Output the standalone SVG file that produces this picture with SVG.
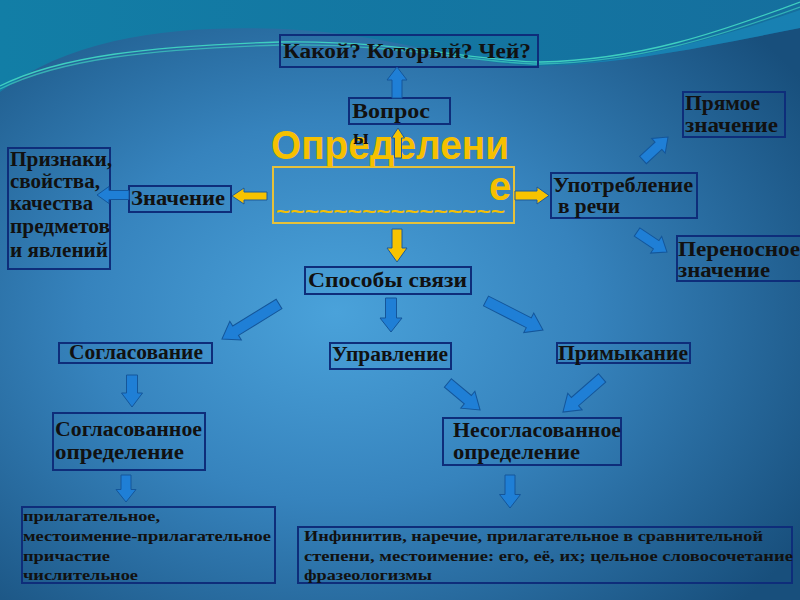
<svg xmlns="http://www.w3.org/2000/svg" width="800" height="600" viewBox="0 0 800 600">
<defs>
<radialGradient id="bg" cx="0.42" cy="0.52" r="0.7">
<stop offset="0" stop-color="#4aa2da"/>
<stop offset="0.45" stop-color="#3683bd"/>
<stop offset="1" stop-color="#184f7c"/>
</radialGradient>
<linearGradient id="cap" x1="0" y1="0" x2="1" y2="0">
<stop offset="0" stop-color="#127ea6"/>
<stop offset="1" stop-color="#156f9e"/>
</linearGradient>
<style>
.box{fill:none;stroke:#0e2d7a;stroke-width:2}
.t{font-family:"Liberation Serif","Times New Roman",serif;font-weight:bold;font-size:20px;fill:#111}
.s{font-family:"Liberation Serif","Times New Roman",serif;font-weight:bold;font-size:15.5px;fill:#111}
.ba{fill:#1f7fd6;stroke:#14569a;stroke-width:1}
.ya{fill:#f8c300;stroke:#1d5a9a;stroke-width:1}
.big{font-family:"Liberation Sans",Arial,sans-serif;font-weight:bold;fill:#f6c000}
</style>
</defs>
<rect width="800" height="600" fill="url(#bg)"/>
<path d="M0,0 H800 V28 C700,48 620,64 540,66 C470,66 400,36 300,30 C200,24 80,30 0,92 Z" fill="url(#cap)"/>
<path d="M540,66 C620,64 700,44 800,10 V28 C700,48 620,64 540,66 Z" fill="#1a8cc0" opacity="0.6"/>
<g fill="none" stroke="#3fcfc0" stroke-width="1.3">
<path d="M0,86 C60,56 150,46 280,42 C400,40 480,62 540,62 C640,60 720,32 800,2"/>
<path d="M0,89 C60,59 150,49 280,45 C400,43 480,64 540,64 C640,62 720,36 800,7" opacity="0.7"/>
</g>

<g id="node-opredelenie">
<rect x="273" y="167" width="241" height="56" fill="none" stroke="#e6c13a" stroke-width="2"/>
<text class="big" x="271" y="159" font-size="40" textLength="238" lengthAdjust="spacingAndGlyphs">Определени</text>
<text class="big" x="489" y="200" font-size="40">е</text>
<text class="big" x="276" y="218" font-size="19" textLength="229" lengthAdjust="spacingAndGlyphs">~~~~~~~~~~~~~~~~</text>
</g>
<g id="node-kakoy">
<rect class="box" x="280" y="35" width="258" height="32"/>
<text class="t" x="283" y="58" textLength="248" lengthAdjust="spacingAndGlyphs">Какой? Который? Чей?</text>
</g>
<g id="node-vopros">
<rect class="box" x="349" y="98" width="101" height="26"/>
<text class="t" x="352" y="118" textLength="78" lengthAdjust="spacingAndGlyphs">Вопрос</text>
<text class="t" x="353" y="144">ы</text>
</g>
<g id="node-znachenie">
<rect class="box" x="129" y="186" width="102" height="26"/>
<text class="t" x="131" y="205" textLength="94" lengthAdjust="spacingAndGlyphs">Значение</text>
</g>
<g id="node-priznaki">
<rect class="box" x="8" y="148" width="102" height="121"/>
<text class="t" x="10" y="166" textLength="102" lengthAdjust="spacingAndGlyphs">Признаки,</text>
<text class="t" x="10" y="188" textLength="90" lengthAdjust="spacingAndGlyphs">свойства,</text>
<text class="t" x="10" y="210" textLength="83" lengthAdjust="spacingAndGlyphs">качества</text>
<text class="t" x="10" y="233" textLength="100" lengthAdjust="spacingAndGlyphs">предметов</text>
<text class="t" x="10" y="257" textLength="98" lengthAdjust="spacingAndGlyphs">и явлений</text>
</g>
<g id="node-upotreblenie">
<rect class="box" x="551" y="173" width="146" height="45"/>
<text class="t" x="553" y="192" textLength="140" lengthAdjust="spacingAndGlyphs">Употребление</text>
<text class="t" x="558" y="213" textLength="62" lengthAdjust="spacingAndGlyphs">в речи</text>
</g>
<g id="node-pryamoe">
<rect class="box" x="683" y="92" width="102" height="45"/>
<text class="t" x="685" y="110" textLength="75" lengthAdjust="spacingAndGlyphs">Прямое</text>
<text class="t" x="685" y="132" textLength="93" lengthAdjust="spacingAndGlyphs">значение</text>
</g>
<g id="node-perenosnoe">
<rect class="box" x="677" y="236" width="126" height="45"/>
<text class="t" x="678" y="256" textLength="122" lengthAdjust="spacingAndGlyphs">Переносное</text>
<text class="t" x="678" y="277" textLength="92" lengthAdjust="spacingAndGlyphs">значение</text>
</g>
<g id="node-sposoby">
<rect class="box" x="305" y="267" width="166" height="27"/>
<text class="t" x="308" y="287" textLength="159" lengthAdjust="spacingAndGlyphs">Способы связи</text>
</g>
<g id="node-soglasovanie">
<rect class="box" x="59" y="343" width="153" height="20"/>
<text class="t" x="69" y="359" textLength="134" lengthAdjust="spacingAndGlyphs">Согласование</text>
</g>
<g id="node-upravlenie">
<rect class="box" x="330" y="343" width="121" height="26"/>
<text class="t" x="332" y="361" textLength="116" lengthAdjust="spacingAndGlyphs">Управление</text>
</g>
<g id="node-primykanie">
<rect class="box" x="557" y="343" width="133" height="20"/>
<text class="t" x="558" y="360" textLength="130" lengthAdjust="spacingAndGlyphs">Примыкание</text>
</g>
<g id="node-soglasovannoe">
<rect class="box" x="53" y="413" width="152" height="57"/>
<text class="t" x="55" y="436" textLength="147" lengthAdjust="spacingAndGlyphs">Согласованное</text>
<text class="t" x="55" y="459" textLength="129" lengthAdjust="spacingAndGlyphs">определение</text>
</g>
<g id="node-nesoglasovannoe">
<rect class="box" x="443" y="418" width="178" height="47"/>
<text class="t" x="453" y="437" textLength="168" lengthAdjust="spacingAndGlyphs">Несогласованное</text>
<text class="t" x="453" y="459" textLength="127" lengthAdjust="spacingAndGlyphs">определение</text>
</g>
<g id="node-list-left">
<rect class="box" x="22" y="507" width="253" height="76"/>
<text class="s" x="23" y="521" textLength="137" lengthAdjust="spacingAndGlyphs">прилагательное,</text>
<text class="s" x="23" y="541" textLength="248" lengthAdjust="spacingAndGlyphs">местоимение-прилагательное</text>
<text class="s" x="23" y="561" textLength="87" lengthAdjust="spacingAndGlyphs">причастие</text>
<text class="s" x="23" y="580" textLength="115" lengthAdjust="spacingAndGlyphs">числительное</text>
</g>
<g id="node-list-right">
<rect class="box" x="298" y="527" width="494" height="56"/>
<text class="s" x="304" y="541" textLength="459" lengthAdjust="spacingAndGlyphs">Инфинитив, наречие, прилагательное в сравнительной</text>
<text class="s" x="304" y="561" textLength="489" lengthAdjust="spacingAndGlyphs">степени, местоимение: его, её, их; цельное словосочетание</text>
<text class="s" x="304" y="580" textLength="128" lengthAdjust="spacingAndGlyphs">фразеологизмы</text>
</g>

<g id="connectors">
<path class="ba" transform="translate(397,82.5) rotate(-90)" d="M-15.5,-5 H2.5 V-10 L15.5,0 L2.5,10 V5 H-15.5 Z"/>
<path class="ya" transform="translate(398,143) rotate(-90)" d="M-15,-3.5 H5 V-6.5 L15,0 L5,6.5 V3.5 H-15 Z"/>
<path class="ya" transform="translate(249.5,196) rotate(180)" d="M-17.5,-4 H5.5 V-8 L17.5,0 L5.5,8 V4 H-17.5 Z"/>
<path class="ba" transform="translate(113,195) rotate(180)" d="M-16,-4.5 H4 V-8.5 L16,0 L4,8.5 V4.5 H-16 Z"/>
<path class="ya" transform="translate(532,195.5) rotate(0)" d="M-17,-4.5 H5 V-8.5 L17,0 L5,8.5 V4.5 H-17 Z"/>
<path class="ba" transform="translate(655.5,148.5) rotate(-42.6)" d="M-17,-5 H4 V-10 L17,0 L4,10 V5 H-17 Z"/>
<path class="ba" transform="translate(652,242) rotate(33.7)" d="M-18,-5 H5 V-10 L18,0 L5,10 V5 H-18 Z"/>
<path class="ya" transform="translate(397,245.5) rotate(90)" d="M-16.5,-5 H2.5 V-10 L16.5,0 L2.5,10 V5 H-16.5 Z"/>
<path class="ba" transform="translate(250.5,321.5) rotate(148.4)" d="M-33.5,-5.5 H17.5 V-11 L33.5,0 L17.5,11 V5.5 H-33.5 Z"/>
<path class="ba" transform="translate(391,315) rotate(90)" d="M-17,-5.5 H3 V-11 L17,0 L3,11 V5.5 H-17 Z"/>
<path class="ba" transform="translate(514.5,315.5) rotate(27)" d="M-32,-5.5 H16 V-11 L32,0 L16,11 V5.5 H-32 Z"/>
<path class="ba" transform="translate(132,391) rotate(90)" d="M-16,-5.5 H2 V-10.5 L16,0 L2,10.5 V5.5 H-16 Z"/>
<path class="ba" transform="translate(464,396.5) rotate(40)" d="M-21,-5.5 H5 V-11 L21,0 L5,11 V5.5 H-21 Z"/>
<path class="ba" transform="translate(582.5,395) rotate(138.9)" d="M-26,-5.5 H10 V-11 L26,0 L10,11 V5.5 H-26 Z"/>
<path class="ba" transform="translate(126,488.5) rotate(90)" d="M-13.5,-5 H1 V-10 L13.5,0 L1,10 V5 H-13.5 Z"/>
<path class="ba" transform="translate(510,491.5) rotate(90)" d="M-16.5,-5 H3 V-10.5 L16.5,0 L3,10.5 V5 H-16.5 Z"/>
</g>
</svg>
